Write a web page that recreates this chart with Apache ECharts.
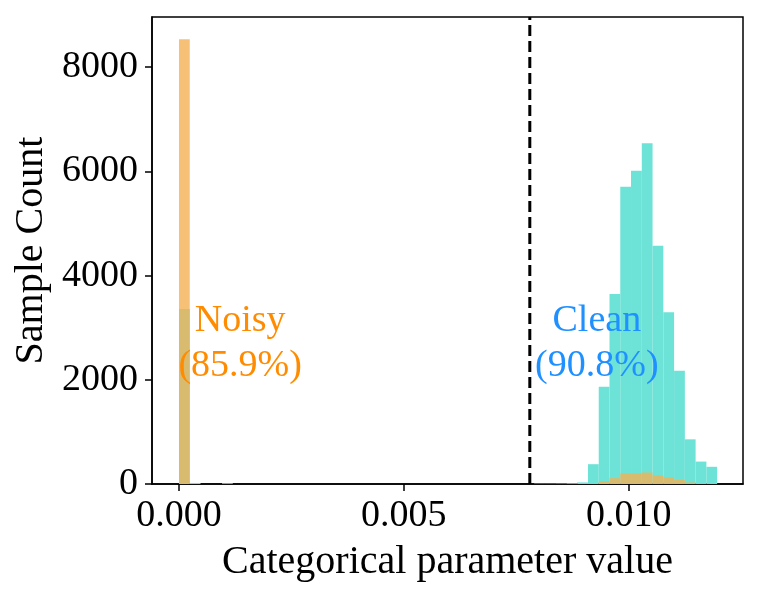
<!DOCTYPE html>
<html>
<head>
<meta charset="utf-8">
<script src="https://cdn.jsdelivr.net/npm/echarts@6/dist/echarts.min.js"></script>
<style>
html,body{margin:0;padding:0;background:#fff;}
#chart{width:760px;height:597px;}
</style>
</head>
<body>
<div id="chart"></div>
<script>
// ---- data ----
const binWidth = 0.0002393;   // histogram bin width (50 bins from 0)
const cleanCounts = [
  3357, 20, 0, 0, 15, 0, 0, 0, 0, 0,
  0, 0, 0, 0, 0, 0, 0, 0, 0, 0,
  0, 0, 0, 0, 0, 0, 0, 0, 0, 0,
  0, 0, 0, 8, 8, 10, 15, 30, 380, 1867,
  3645, 5704, 6011, 6536, 4572, 3293, 2174, 857, 430, 330
];
const noisyCounts = [
  8533, 0, 0, 0, 0, 0, 0, 0, 0, 0,
  0, 0, 0, 0, 0, 0, 0, 0, 0, 0,
  0, 0, 0, 0, 0, 0, 0, 0, 0, 0,
  0, 0, 0, 0, 0, 0, 0, 0, 5, 58,
  112, 205, 205, 220, 163, 127, 77, 29, 5, 0
];
const thresholdX = 0.0078;
const xTicks = [0, 0.005, 0.010];
const xTickLabels = ['0.000', '0.005', '0.010'];
const yTicks = [0, 2000, 4000, 6000, 8000];
const yTickLabels = ['0', '2000', '4000', '6000', '8000'];
const annotations = [
  { x: 0.00136, y: 2700, text: 'Noisy\n(85.9%)', color: '#FF8C00' },
  { x: 0.00929, y: 2700, text: 'Clean\n(90.8%)', color: '#1E90FF' }
];
const xMin = -0.0006, xMax = 0.01254, yMax = 8960;

// ---- build ----
const FONT = '"Liberation Serif", "Times New Roman", serif';
function binData(counts) {
  return counts.map((c, i) => [i * binWidth, (i + 1) * binWidth, c]);
}
function barRender(color) {
  return function (params, api) {
    const x0 = api.value(0), x1 = api.value(1), c = api.value(2);
    if (c <= 0) return null;
    const p0 = api.coord([x0, c]);
    const p1 = api.coord([x1, 0]);
    return {
      type: 'rect',
      shape: { x: p0[0], y: p0[1], width: p1[0] - p0[0], height: p1[1] - p0[1] },
      style: { fill: color }
    };
  };
}
function pick(ticks, labels) {
  return function (v) {
    const i = ticks.findIndex(t => Math.abs(t - v) < 1e-9 * Math.max(1, Math.abs(t)));
    return i >= 0 ? labels[i] : '';
  };
}

const chart = echarts.init(document.getElementById('chart'), null, { renderer: 'canvas' });
chart.setOption({
  animation: false,
  backgroundColor: '#fff',
  grid: {
    left: 152, right: 17, top: 17, bottom: 113,
    containLabel: false, outerBoundsMode: 'none',
    show: true, borderColor: '#000', borderWidth: 1.5, backgroundColor: 'transparent'
  },
  xAxis: {
    type: 'value', min: xMin, max: xMax,
    name: 'Categorical parameter value', nameLocation: 'middle', nameGap: 58,
    nameTextStyle: { fontFamily: FONT, fontSize: 40, color: '#000' },
    axisLine: { show: true, onZero: false, lineStyle: { color: '#000', width: 1.5 } },
    axisTick: { show: true, inside: false, length: 7, lineStyle: { color: '#000', width: 1.5 }, customValues: xTicks },
    axisLabel: {
      show: true, margin: 13, color: '#000', fontFamily: FONT, fontSize: 38,
      customValues: xTicks, formatter: pick(xTicks, xTickLabels)
    },
    splitLine: { show: false }
  },
  yAxis: {
    type: 'value', min: 0, max: yMax,
    name: 'Sample Count', nameLocation: 'middle', nameGap: 100,
    nameTextStyle: { fontFamily: FONT, fontSize: 40, color: '#000' },
    axisLine: { show: true, onZero: false, lineStyle: { color: '#000', width: 1.5 } },
    axisTick: { show: true, inside: false, length: 7, lineStyle: { color: '#000', width: 1.5 }, customValues: yTicks },
    axisLabel: {
      show: true, margin: 14, color: '#000', fontFamily: FONT, fontSize: 38,
      customValues: yTicks, formatter: pick(yTicks, yTickLabels)
    },
    splitLine: { show: false }
  },
  series: [
    {
      type: 'custom', name: 'Clean', clip: true,
      data: binData(cleanCounts),
      encode: { x: [0, 1], y: 2 },
      renderItem: barRender('#6de2d6')
    },
    {
      type: 'custom', name: 'Noisy', clip: true,
      data: binData(noisyCounts),
      encode: { x: [0, 1], y: 2 },
      renderItem: barRender('rgba(244,178,85,0.8)')
    },
    {
      type: 'custom', name: 'threshold', clip: true,
      data: [[thresholdX]],
      encode: { x: 0 },
      renderItem: function (params, api) {
        const a = api.coord([api.value(0), 0]);
        const b = api.coord([api.value(0), yMax]);
        return {
          type: 'line', shape: { x1: a[0], y1: a[1], x2: b[0], y2: b[1] },
          style: { stroke: '#000', lineWidth: 3, lineDash: [11, 5] }
        };
      }
    },
    {
      type: 'custom', name: 'labels', clip: false,
      data: annotations.map(a => [a.x, a.y]),
      encode: { x: 0, y: 1 },
      renderItem: function (params, api) {
        const a = annotations[params.dataIndex];
        const p = api.coord([api.value(0), api.value(1)]);
        return {
          type: 'text', x: p[0], y: p[1],
          style: {
            text: a.text, fill: a.color, fontFamily: FONT, fontSize: 38,
            align: 'center', verticalAlign: 'middle', lineHeight: 45
          }
        };
      }
    }
  ]
});
</script>
</body>
</html>
